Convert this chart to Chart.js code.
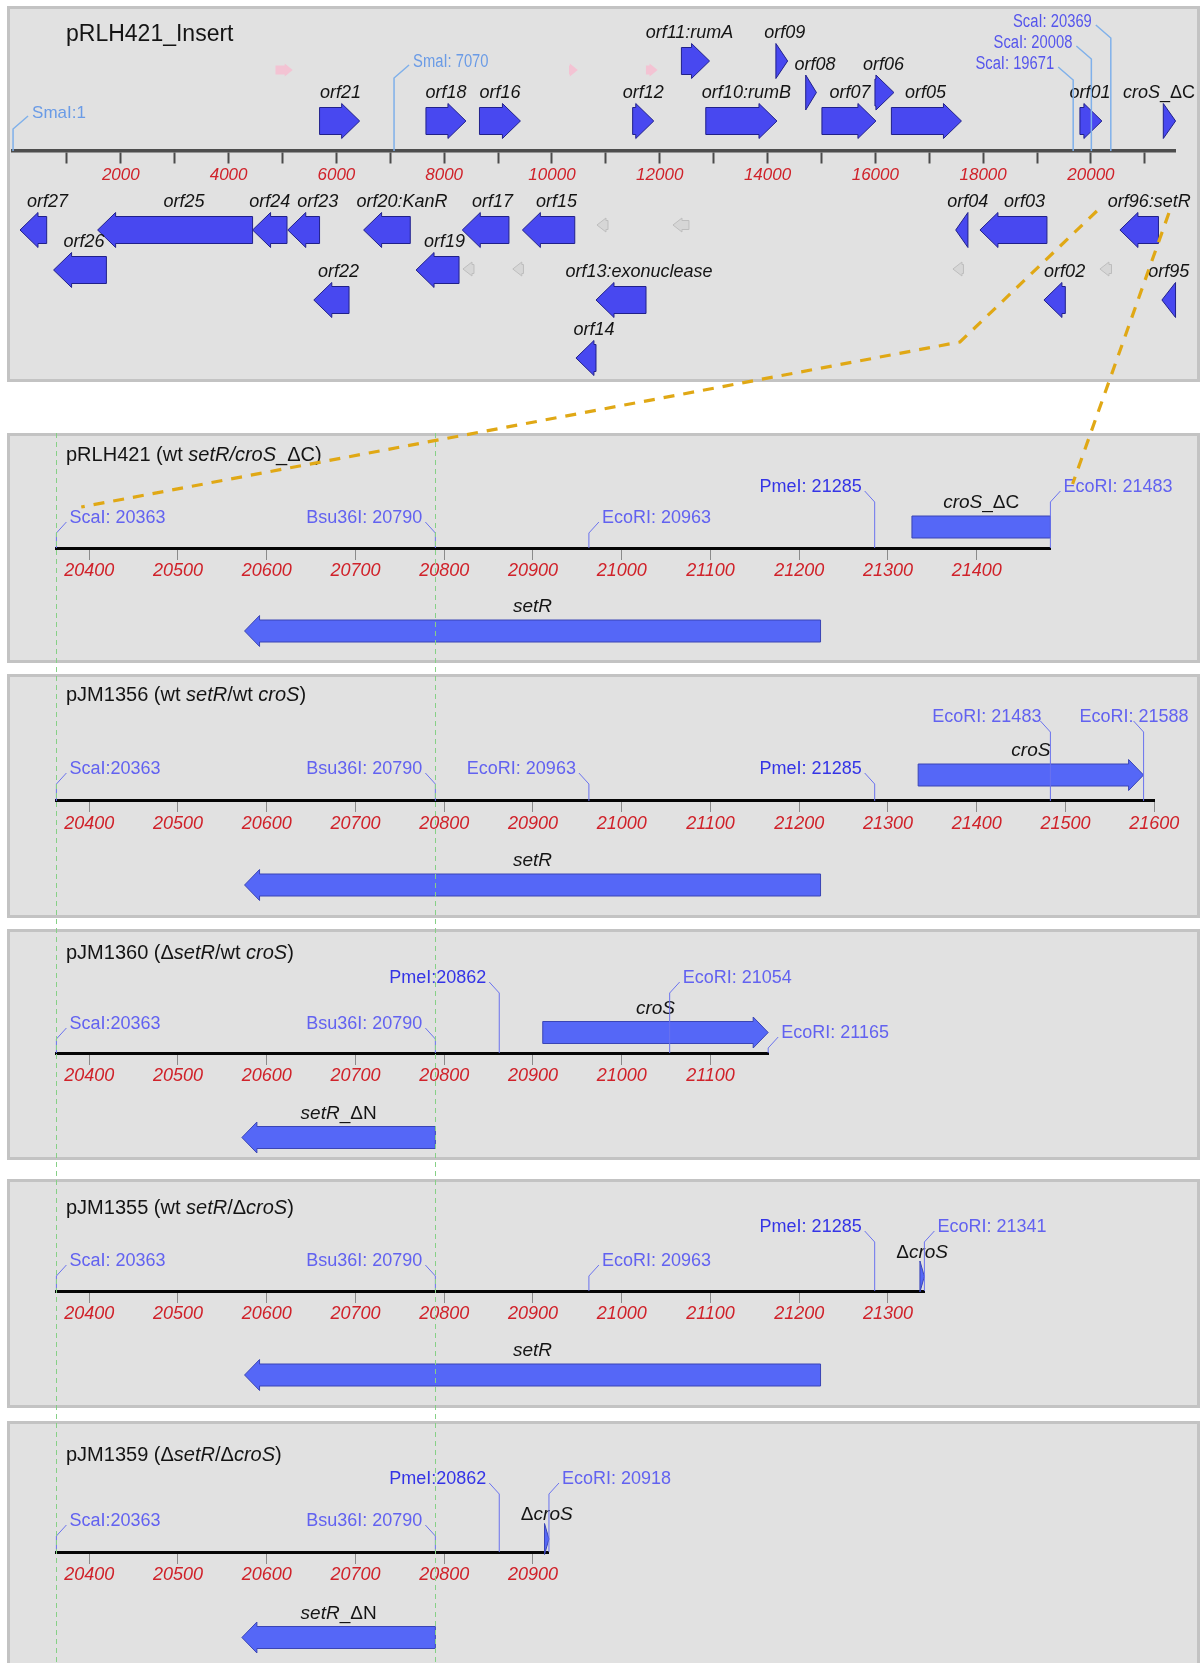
<!DOCTYPE html>
<html>
<head>
<meta charset="utf-8">
<title>pRLH421 insert and setR/croS constructs</title>
<script src="https://cdn.jsdelivr.net/npm/chart.js@4.4.1/dist/chart.umd.min.js"></script>
<style>
  html, body { margin: 0; padding: 0; background: #ffffff; }
  #page { position: relative; width: 1203px; height: 1663px; overflow: hidden; }
  .box { position: absolute; left: 7px; width: 1193px; box-sizing: border-box;
         background: #e1e1e1; border: 3px solid #c3c3c3; }
  canvas.panel { position: absolute; left: 0; }
  #overlay { position: absolute; left: 0; top: 0; pointer-events: none; }
</style>
</head>
<body>
<div id="page"></div>
<script>
// ---------------------------------------------------------------
// pRLH421 insert (bp 0 - 21560)
// ---------------------------------------------------------------
const insertLength = 21560;
const insertTicks = [1000, 2000, 3000, 4000, 5000, 6000, 7000, 8000, 9000, 10000, 11000,
                     12000, 13000, 14000, 15000, 16000, 17000, 18000, 19000, 20000, 21000];
const insertTickLabels = ['', '2000', '', '4000', '', '6000', '', '8000', '', '10000', '',
                          '12000', '', '14000', '', '16000', '', '18000', '', '20000', ''];

const insertGeneNames = [
  'orf21', 'orf18', 'orf16', 'orf12', 'orf10:rumB', 'orf07', 'orf05', 'orf01', '*croS*_ΔC',
  'orf11:rumA', 'orf09', 'orf08', 'orf06',
  'orf27', 'orf25', 'orf24', 'orf23', 'orf20:KanR', 'orf17', 'orf15', 'orf04', 'orf03', 'orf96:setR',
  'orf26', 'orf19', 'orf22', 'orf13:exonuclease', 'orf02', 'orf95', 'orf14'
];
const insertGeneStart = [
  5688, 7662, 8655, 11497, 12854, 15009, 16298, 19796, 21343,
  12402, 14155, 14708, 15993,
  130, 1570, 4445, 5098, 6505, 8336, 9451, 17491, 17941, 20538,
  753, 7478, 5581, 10817, 19128, 21317, 10445
];
const insertGeneEnd = [
  6432, 8404, 9415, 11889, 14175, 16011, 17598, 20204, 21571,
  12924, 14373, 14907, 16345,
  625, 4445, 5084, 5688, 7371, 9202, 10423, 17718, 19184, 21253,
  1733, 8276, 6235, 11745, 19525, 21570, 10817
];
const insertGeneStrand = [
  1, 1, 1, 1, 1, 1, 1, 1, 1,
  1, 1, 1, 1,
  -1, -1, -1, -1, -1, -1, -1, -1, -1, -1,
  -1, -1, -1, -1, -1, -1, -1
];
const insertGeneLane = [
  1, 1, 1, 1, 1, 1, 1, 1, 1,
  3, 3, 2, 2,
  -1, -1, -1, -1, -1, -1, -1, -1, -1, -1,
  -2, -2, -3, -3, -3, -3, -4
];

// unlabelled short ORFs
const insertFaintStart  = [4870, 10316, 11744, 10835, 12245, 8349, 9273, 17440, 20167];
const insertFaintEnd    = [5190, 10480, 11960, 11040, 12542, 8553, 9471, 17635, 20382];
const insertFaintStrand = [1, 1, 1, -1, -1, -1, -1, -1, -1];
const insertFaintLane   = [1, 1, 1, -1, -1, -2, -2, -2, -2];

const insertSiteNames = ['SmaI:1', 'SmaI: 7070', 'ScaI: 19671', 'ScaI: 20008', 'ScaI: 20369'];
const insertSitePos   = [1, 7070, 19671, 20008, 20369];

// ---------------------------------------------------------------
// setR / croS constructs (bp 20363 - end of each map)
// ---------------------------------------------------------------
const constructTicks = [20400, 20500, 20600, 20700, 20800, 20900, 21000,
                        21100, 21200, 21300, 21400, 21500, 21600];
const constructTitles = [
  'pRLH421 (wt *setR/croS*_ΔC)',
  'pJM1356 (wt *setR*/wt *croS*)',
  'pJM1360 (Δ*setR*/wt *croS*)',
  'pJM1355 (wt *setR*/Δ*croS*)',
  'pJM1359 (Δ*setR*/Δ*croS*)'
];
const constructStart = 20363;
const constructEnd = [21483, 21600, 21165, 21341, 20918];

const pRLH421SiteNames = ['ScaI: 20363', 'Bsu36I: 20790', 'EcoRI: 20963', 'PmeI: 21285', 'EcoRI: 21483'];
const pRLH421SitePos   = [20363, 20790, 20963, 21285, 21483];
const pJM1356SiteNames = ['ScaI:20363', 'Bsu36I: 20790', 'EcoRI: 20963', 'PmeI: 21285', 'EcoRI: 21483', 'EcoRI: 21588'];
const pJM1356SitePos   = [20363, 20790, 20963, 21285, 21483, 21588];
const pJM1360SiteNames = ['ScaI:20363', 'Bsu36I: 20790', 'PmeI:20862', 'EcoRI: 21054', 'EcoRI: 21165'];
const pJM1360SitePos   = [20363, 20790, 20862, 21054, 21165];
const pJM1355SiteNames = ['ScaI: 20363', 'Bsu36I: 20790', 'EcoRI: 20963', 'PmeI: 21285', 'EcoRI: 21341'];
const pJM1355SitePos   = [20363, 20790, 20963, 21285, 21341];
const pJM1359SiteNames = ['ScaI:20363', 'Bsu36I: 20790', 'PmeI:20862', 'EcoRI: 20918'];
const pJM1359SitePos   = [20363, 20790, 20862, 20918];

const pRLH421GeneNames = ['*croS*_ΔC', '*setR*'];
const pRLH421GeneStart = [21327, 20575];
const pRLH421GeneEnd   = [21483, 21224];
const pRLH421GeneStrand = [1, -1];
const pRLH421GeneHasHead = [false, true];

const pJM1356GeneNames = ['*croS*', '*setR*'];
const pJM1356GeneStart = [21334, 20575];
const pJM1356GeneEnd   = [21588, 21224];
const pJM1356GeneStrand = [1, -1];

const pJM1360GeneNames = ['*croS*', '*setR*_ΔN'];
const pJM1360GeneStart = [20911, 20572];
const pJM1360GeneEnd   = [21165, 20790];
const pJM1360GeneStrand = [1, -1];

const pJM1355GeneNames = ['Δ*croS*', '*setR*'];
const pJM1355GeneStart = [21336, 20575];
const pJM1355GeneEnd   = [21341, 21224];
const pJM1355GeneStrand = [1, -1];

const pJM1359GeneNames = ['Δ*croS*', '*setR*_ΔN'];
const pJM1359GeneStart = [20913, 20572];
const pJM1359GeneEnd   = [20918, 20790];
const pJM1359GeneStrand = [1, -1];

// sites used as vertical guides through the construct maps
const guideSites = [20363, 20790];

// ---------------------------------------------------------------
// layout
// ---------------------------------------------------------------
const FONT = '"Liberation Sans", Arial, Helvetica, sans-serif';
const PAGE_W = 1203, PAGE_H = 1663;
const CONSTRUCT_LEFT = 56.4;      // pixel of bp 20363
const CONSTRUCT_SCALE = 0.8875;   // px per bp in the construct maps

// panel boxes: top, height, axis (px from panel top)
const panelLayout = [
  { top: 6,    height: 376, axis: 145 },
  { top: 433,  height: 230, axis: 115 },
  { top: 674,  height: 244, axis: 127 },
  { top: 929,  height: 231, axis: 124 },
  { top: 1179, height: 229, axis: 112 },
  { top: 1421, height: 250, axis: 131 }
];

// lane heights (px above the backbone) on the insert map
const insertLaneRise = { '1': 30, '2': 58.5, '3': 90, '-1': -79, '-2': -119, '-3': -149, '-4': -207 };
const insertFaintRise = { '1': 81, '-1': -74, '-2': -118 };
// horizontal nudges of the ORF names (px), in gene order
const insertLabelDx = [
  1, 0, 0, 0, 5, 1, -1, -1, 0,
  -6, 3, 4, -1,
  0, 9, 0, 14, 15, 7, 8, 6, 11, 10,
  4, 7, 7, 18, 10, 0, 8
];
const insertSiteRise = [38, 89, 87, 108, 129];
const insertSiteSide = ['R', 'R', 'L', 'L', 'L'];
const insertSiteColor = ['#6a9be6', '#6a9be6', '#5555ec', '#5555ec', '#5555ec'];
const insertSiteSize = [17, 18, 18, 18, 18];
const insertSiteSx = [1, 0.82, 0.82, 0.82, 0.82];

// construct panels: title height, gene rows, site label rows
const constructLayout = [
  { titleRise: 93,  fwd: 21,   rev: -83,   siteRise: [30, 30, 30, 61, 61],     siteSide: ['R', 'L', 'R', 'L', 'R'],      siteShift: [0, 0, 0, 0, 0] },
  { titleRise: 106, fwd: 26,   rev: -84,   siteRise: [32, 32, 32, 32, 84, 84], siteSide: ['R', 'L', 'L', 'L', 'L', 'L'], siteShift: [0, 0, 0, 0, 4, 58] },
  { titleRise: 100, fwd: 20.5, rev: -84.5, siteRise: [29, 29, 75, 75, 20],     siteSide: ['R', 'L', 'L', 'R', 'R'],      siteShift: [0, 0, 0, 0, 0] },
  { titleRise: 83,  fwd: 14.5, rev: -84,   siteRise: [30, 30, 30, 64, 64],     siteSide: ['R', 'L', 'R', 'L', 'R'],      siteShift: [0, 0, 0, 0, 0] },
  { titleRise: 97,  fwd: 13,   rev: -85.5, siteRise: [31, 31, 73, 73],         siteSide: ['R', 'L', 'L', 'R'],           siteShift: [0, 0, 0, 0] }
];

// dashed links from the insert map to the pRLH421 construct: [panel, bp, rise]
const zoomLinks = [
  [[0, 20110, -60], [0, 17570, -191], [1, 20391, 41]],
  [[0, 21447, -62], [1, 21508, 64]]
];

// ---------------------------------------------------------------
// drawing helpers
// ---------------------------------------------------------------
function segments(s, italicDefault) {
  if (s.indexOf('*') < 0) return [{ t: s, it: italicDefault }];
  return s.split('*').map((t, i) => ({ t, it: i % 2 === 1 })).filter(p => p.t.length);
}
function fontStr(it, weight, size) {
  return (it ? 'italic ' : '') + (weight || 'normal') + ' ' + size + 'px ' + FONT;
}
function measureRich(ctx, s, size, italicDefault, weight) {
  let w = 0;
  segments(s, italicDefault).forEach(p => { ctx.font = fontStr(p.it, weight, size); w += ctx.measureText(p.t).width; });
  return w;
}
// mixed roman/italic text; sx < 1 draws it horizontally condensed
function drawRich(ctx, s, x, y, align, size, color, italicDefault, weight, sx) {
  sx = sx || 1;
  const total = measureRich(ctx, s, size, italicDefault, weight) * sx;
  const x0 = align === 'center' ? x - total / 2 : align === 'right' ? x - total : x;
  ctx.save();
  ctx.translate(x0, y);
  ctx.scale(sx, 1);
  ctx.fillStyle = color;
  ctx.textBaseline = 'middle';
  ctx.textAlign = 'left';
  let cx = 0;
  segments(s, italicDefault).forEach(p => {
    ctx.font = fontStr(p.it, weight, size);
    ctx.fillText(p.t, cx, 0);
    cx += ctx.measureText(p.t).width;
  });
  ctx.restore();
}
function drawArrow(ctx, xa, xb, yc, strand, st, hasHead) {
  const lo = Math.min(xa, xb), hi = Math.max(xa, xb), len = hi - lo;
  const tail = strand > 0 ? lo : hi, tip = strand > 0 ? hi : lo, d = strand > 0 ? 1 : -1;
  const hb = st.body / 2, hh = st.headW / 2;
  ctx.beginPath();
  if (hasHead === false) {
    ctx.rect(lo, yc - hb, len, 2 * hb);
  } else if (len <= st.headLen) {
    ctx.moveTo(tail, yc - hh); ctx.lineTo(tip, yc); ctx.lineTo(tail, yc + hh); ctx.closePath();
  } else {
    const neck = tip - d * st.headLen;
    ctx.moveTo(tail, yc - hb); ctx.lineTo(neck, yc - hb); ctx.lineTo(neck, yc - hh);
    ctx.lineTo(tip, yc); ctx.lineTo(neck, yc + hh); ctx.lineTo(neck, yc + hb);
    ctx.lineTo(tail, yc + hb); ctx.closePath();
  }
  ctx.fillStyle = st.fill; ctx.fill();
  if (st.stroke) { ctx.strokeStyle = st.stroke; ctx.lineWidth = st.lw; ctx.stroke(); }
}

// gene map plugin: genes, labels, restriction sites and titles, placed through the chart scales
function makeMapPlugin(o) {
  return {
    id: 'geneMap',
    afterDraw(chart) {
      const ctx = chart.ctx, xs = chart.scales.x, ys = chart.scales.y;
      const X = v => xs.getPixelForValue(v), Y = v => ys.getPixelForValue(v);
      ctx.save();
      (o.faint || []).forEach(g => {
        drawArrow(ctx, X(g.start), X(g.end), Y(g.rise), g.strand, g.strand > 0 ? o.faintFwd : o.faintRev, true);
      });
      o.genes.forEach(g => drawArrow(ctx, X(g.start), X(g.end), Y(g.rise), g.strand, o.geneStyle, g.head));
      o.genes.forEach(g => {
        let cx = (X(g.start) + X(g.end)) / 2 + g.labelDx;
        const w = measureRich(ctx, g.name, o.geneFont, true);
        cx = Math.max(o.labelMin + w / 2, Math.min(o.labelMax - w / 2, cx));
        drawRich(ctx, g.name, cx, Y(g.rise + o.labelRise), 'center', o.geneFont, '#141414', true);
      });
      const L = o.leader;
      o.sites.forEach(s => {
        const x = X(s.pos), dir = s.side === 'R' ? 1 : -1;
        ctx.beginPath();
        ctx.moveTo(x, Y(0));
        ctx.lineTo(x, Y(s.rise - L.vGap));
        ctx.lineTo(x + dir * L.dx, Y(s.rise - L.dGap));
        ctx.strokeStyle = L.color; ctx.lineWidth = L.lw; ctx.stroke();
        drawRich(ctx, s.name, x + dir * L.gap + s.shift, Y(s.rise),
                 dir > 0 ? 'left' : 'right', s.size, s.color, false, 'normal', s.sx);
      });
      drawRich(ctx, o.title.text, o.title.x, Y(o.title.rise), 'left', o.title.size, '#141414', false, 'normal');
      ctx.restore();
    }
  };
}

const page = document.getElementById('page');

function buildPanel(i, spec) {
  const P = panelLayout[i];
  const box = document.createElement('div');
  box.className = 'box';
  box.style.top = P.top + 'px';
  box.style.height = P.height + 'px';
  page.appendChild(box);
  const cv = document.createElement('canvas');
  cv.className = 'panel';
  cv.width = PAGE_W; cv.height = P.height;
  cv.style.top = P.top + 'px';
  cv.style.width = PAGE_W + 'px'; cv.style.height = P.height + 'px';
  page.appendChild(cv);
  return new Chart(cv, {
    type: 'scatter',
    data: { datasets: [] },
    options: {
      responsive: false, animation: false, devicePixelRatio: 1, events: [],
      layout: { autoPadding: false, padding: { left: spec.left, right: PAGE_W - spec.right, top: 0, bottom: 0 } },
      plugins: { legend: { display: false }, tooltip: { enabled: false } },
      scales: {
        x: {
          type: 'linear', bounds: 'data', min: spec.min, max: spec.max, position: { y: 0 },
          afterBuildTicks: s => { s.ticks = spec.ticks.map(v => ({ value: v })); },
          afterFit: s => { s.height = 0; s.paddingLeft = 0; s.paddingRight = 0; s.paddingTop = 0; s.paddingBottom = 0; },
          ticks: {
            autoSkip: false, maxRotation: 0, minRotation: 0, padding: spec.tickPad,
            color: '#d0222a', font: { family: FONT, size: spec.tickSize, style: 'italic' },
            callback: (v, idx) => spec.tickLabels[idx]
          },
          grid: { drawOnChartArea: false, drawTicks: true, tickLength: spec.tickLen,
                  tickColor: spec.tickColor, tickWidth: spec.tickWidth, lineWidth: 1 },
          border: { display: true, color: spec.axisColor, width: spec.axisWidth }
        },
        y: { type: 'linear', display: false, min: -(P.height - P.axis), max: P.axis }
      }
    },
    plugins: [makeMapPlugin(spec.map)]
  });
}

const charts = [];

// insert map
charts.push(buildPanel(0, {
  min: 0, max: insertLength, left: 13, right: 1175,
  ticks: insertTicks, tickLabels: insertTickLabels,
  tickPad: 3, tickSize: 17, tickLen: 11, tickColor: '#4a4a4a', tickWidth: 2,
  axisColor: '#4d4d4d', axisWidth: 3.5,
  map: {
    title: { text: 'pRLH421_Insert', x: 66, rise: 116, size: 23 },
    genes: insertGeneNames.map((n, k) => ({
      name: n, start: insertGeneStart[k], end: insertGeneEnd[k], strand: insertGeneStrand[k],
      rise: insertLaneRise[String(insertGeneLane[k])], head: true, labelDx: insertLabelDx[k]
    })),
    faint: insertFaintStart.map((s, k) => ({
      start: s, end: insertFaintEnd[k], strand: insertFaintStrand[k], rise: insertFaintRise[String(insertFaintLane[k])]
    })),
    sites: insertSiteNames.map((n, k) => ({
      name: n, pos: insertSitePos[k], rise: insertSiteRise[k], side: insertSiteSide[k],
      shift: 0, color: insertSiteColor[k], size: insertSiteSize[k], sx: insertSiteSx[k]
    })),
    geneStyle: { body: 27, headW: 35, headLen: 18, fill: '#4848f0', stroke: '#20208a', lw: 1 },
    faintFwd: { body: 9, headW: 13, headLen: 8, fill: '#f3c3d3', stroke: null, lw: 0 },
    faintRev: { body: 9, headW: 14, headLen: 9, fill: '#d6d6d6', stroke: '#bdbdbd', lw: 1 },
    geneFont: 18, labelRise: 28, labelMin: 27, labelMax: 1195,
    leader: { vGap: 16, dGap: 3, dx: 15, gap: 19, color: '#7fb0ea', lw: 1.5 }
  }
}));

// construct maps
const constructSites = [
  [pRLH421SiteNames, pRLH421SitePos], [pJM1356SiteNames, pJM1356SitePos], [pJM1360SiteNames, pJM1360SitePos],
  [pJM1355SiteNames, pJM1355SitePos], [pJM1359SiteNames, pJM1359SitePos]
];
const constructGenes = [
  [pRLH421GeneNames, pRLH421GeneStart, pRLH421GeneEnd, pRLH421GeneStrand, pRLH421GeneHasHead],
  [pJM1356GeneNames, pJM1356GeneStart, pJM1356GeneEnd, pJM1356GeneStrand, null],
  [pJM1360GeneNames, pJM1360GeneStart, pJM1360GeneEnd, pJM1360GeneStrand, null],
  [pJM1355GeneNames, pJM1355GeneStart, pJM1355GeneEnd, pJM1355GeneStrand, null],
  [pJM1359GeneNames, pJM1359GeneStart, pJM1359GeneEnd, pJM1359GeneStrand, null]
];

constructTitles.forEach((title, c) => {
  const CL = constructLayout[c];
  const end = constructEnd[c];
  const ticks = constructTicks.filter(v => v <= end);
  const [sNames, sPos] = constructSites[c];
  const [gNames, gStart, gEnd, gStrand, gHead] = constructGenes[c];
  charts.push(buildPanel(c + 1, {
    min: constructStart, max: end,
    left: CONSTRUCT_LEFT, right: CONSTRUCT_LEFT + (end - constructStart) * CONSTRUCT_SCALE,
    ticks: ticks, tickLabels: ticks.map(String),
    tickPad: 2, tickSize: 18, tickLen: 10, tickColor: '#8a8a8a', tickWidth: 1,
    axisColor: '#050505', axisWidth: 3,
    map: {
      title: { text: title, x: 66, rise: CL.titleRise, size: 20 },
      genes: gNames.map((n, k) => ({
        name: n, start: gStart[k], end: gEnd[k], strand: gStrand[k],
        rise: gStrand[k] > 0 ? CL.fwd : CL.rev, head: gHead ? gHead[k] : true, labelDx: 0
      })),
      sites: sNames.map((n, k) => ({
        name: n, pos: sPos[k], rise: CL.siteRise[k], side: CL.siteSide[k], shift: CL.siteShift[k],
        color: n.indexOf('PmeI') === 0 ? '#3434e6' : '#6262f0', size: 18, sx: 1
      })),
      geneStyle: { body: 22, headW: 31, headLen: 15, fill: '#5567f7', stroke: '#3a45b5', lw: 1 },
      geneFont: 19, labelRise: 24, labelMin: 27, labelMax: 1195,
      leader: { vGap: 15, dGap: 4, dx: 10, gap: 13, color: '#6a72ee', lw: 1 }
    }
  }));
});

// overlay: guide lines through the construct maps and links from the insert map
const ov = document.createElement('canvas');
ov.id = 'overlay';
ov.width = PAGE_W; ov.height = PAGE_H;
page.appendChild(ov);
const octx = ov.getContext('2d');

function pagePoint(ci, bp, rise) {
  const ch = charts[ci];
  return [ch.scales.x.getPixelForValue(bp), panelLayout[ci].top + ch.scales.y.getPixelForValue(rise)];
}

octx.save();
octx.setLineDash([5, 4]);
octx.strokeStyle = '#86d086';
octx.lineWidth = 1;
guideSites.forEach(bp => {
  const x = Math.round(charts[1].scales.x.getPixelForValue(bp)) + 0.5;
  octx.beginPath();
  octx.moveTo(x, panelLayout[1].top);
  octx.lineTo(x, PAGE_H);
  octx.stroke();
});
octx.restore();

octx.save();
octx.setLineDash([11, 9]);
octx.strokeStyle = '#e0a815';
octx.lineWidth = 3.2;
zoomLinks.forEach(path => {
  octx.beginPath();
  path.forEach((p, k) => {
    const [x, y] = pagePoint(p[0], p[1], p[2]);
    if (k === 0) octx.moveTo(x, y); else octx.lineTo(x, y);
  });
  octx.stroke();
});
octx.restore();
</script>
</body>
</html>
